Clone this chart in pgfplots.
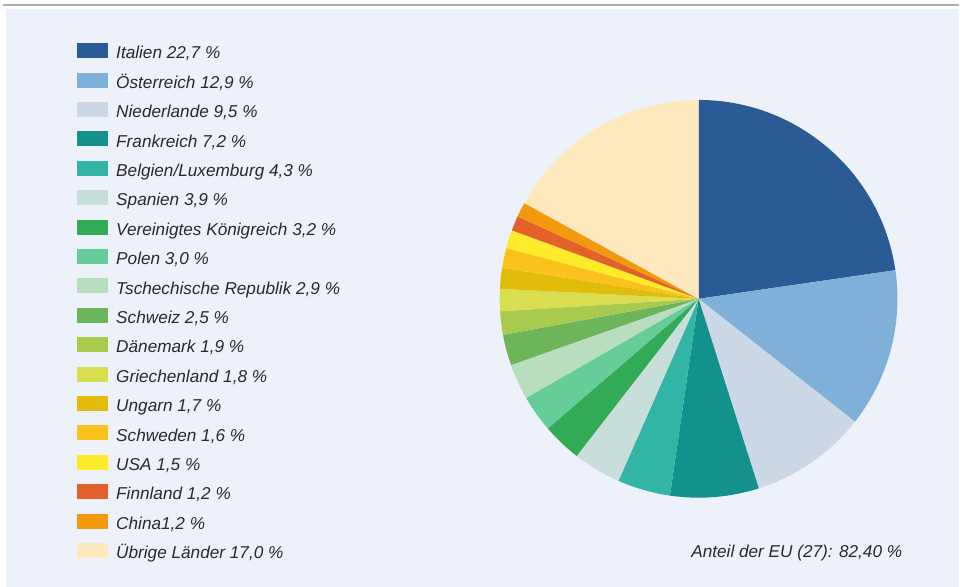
\documentclass[border=0pt]{standalone}
\usepackage{pgfplots}
\pgfplotsset{compat=1.18}
\usepackage{pgfplotstable}
\usepackage{fontspec}
\setmainfont{Liberation Sans}
\newcommand\lf{\fontsize{12.9}{15}\selectfont\itshape}
\definecolor{txt}{HTML}{2A2A2A}
\definecolor{panel}{HTML}{EDF1FA}
\definecolor{cIT}{HTML}{2B5B94}
\definecolor{cAT}{HTML}{7FB0DA}
\definecolor{cNL}{HTML}{CDD8E6}
\definecolor{cFR}{HTML}{14918A}
\definecolor{cBE}{HTML}{33B5A5}
\definecolor{cES}{HTML}{C8DEDA}
\definecolor{cUK}{HTML}{33AA55}
\definecolor{cPL}{HTML}{66CC99}
\definecolor{cCZ}{HTML}{B8DDBF}
\definecolor{cCH}{HTML}{6DB55A}
\definecolor{cDK}{HTML}{A8CB4E}
\definecolor{cGR}{HTML}{D9DD50}
\definecolor{cHU}{HTML}{E2BC0A}
\definecolor{cSE}{HTML}{FBC21E}
\definecolor{cUS}{HTML}{FFEB2A}
\definecolor{cFI}{HTML}{E3622C}
\definecolor{cCN}{HTML}{F3990E}
\definecolor{cOT}{HTML}{FEE8BE}

\pgfplotstableread{
val col
22.7 cIT
12.9 cAT
9.5 cNL
7.2 cFR
4.3 cBE
3.9 cES
3.2 cUK
3.0 cPL
2.9 cCZ
2.5 cCH
1.9 cDK
1.8 cGR
1.7 cHU
1.6 cSE
1.5 cUS
1.2 cFI
1.2 cCN
17.0 cOT
}\piedata
\pgfplotstablecreatecol[create col/expr accum={\pgfmathaccuma + \thisrow{val}}{0}]{cum}\piedata

\begin{document}
\begin{tikzpicture}
\begin{axis}[
  x=0.75pt, y=0.75pt, y dir=reverse,
  xmin=0, xmax=960, ymin=0, ymax=587,
  enlargelimits=false, hide axis, clip=false,
  legend cell align=left,
  legend image code/.code={\fill[#1, draw=none] (0pt,-5.375pt) rectangle (23.25pt,5.875pt);},
  legend style={at={(axis cs:77.3,43.3)}, anchor=north west, draw=none, fill=none,
    inner sep=0pt, outer sep=0pt, row sep=10.31pt, column sep=6pt,
    nodes={inner sep=0pt, outer sep=0pt, text height=11.75pt, text depth=0pt,
      font=\lf, text=txt}},
]
\fill[white] (axis cs:0,0) rectangle (axis cs:960,587);
\fill[panel] (axis cs:6,9) rectangle (axis cs:960,587);
\draw[color=black!32, line width=0.9pt] (axis cs:3,5) -- (axis cs:960,5);

\pgfplotsinvokeforeach{0,...,17}{%
  \pgfplotstablegetelem{#1}{val}\of\piedata \let\pv\pgfplotsretval
  \pgfplotstablegetelem{#1}{cum}\of\piedata \let\pc\pgfplotsretval
  \pgfplotstablegetelem{#1}{col}\of\piedata \let\pcol\pgfplotsretval
  \pgfmathsetmacro{\pa}{90-3.6*(\pc-\pv)}%
  \pgfmathsetmacro{\pb}{90-3.6*\pc}%
  \edef\tmp{\noexpand\fill[\pcol] (axis cs:699,299) -- ++(\pa:149.25pt) arc[start angle=\pa, end angle=\pb, radius=149.25pt] -- cycle;}%
  \tmp
}

\node[anchor=base east, font=\lf, text=txt, inner sep=0pt] at (axis cs:903,558) {Anteil der EU (27): 82,40 \%};

\addlegendimage{fill=cIT}\addlegendentry{Italien 22,7 \%}
\addlegendimage{fill=cAT}\addlegendentry{Österreich 12,9 \%}
\addlegendimage{fill=cNL}\addlegendentry{Niederlande 9,5 \%}
\addlegendimage{fill=cFR}\addlegendentry{Frankreich 7,2 \%}
\addlegendimage{fill=cBE}\addlegendentry{Belgien/Luxemburg 4,3 \%}
\addlegendimage{fill=cES}\addlegendentry{Spanien 3,9 \%}
\addlegendimage{fill=cUK}\addlegendentry{Vereinigtes Königreich 3,2 \%}
\addlegendimage{fill=cPL}\addlegendentry{Polen 3,0 \%}
\addlegendimage{fill=cCZ}\addlegendentry{Tschechische Republik 2,9 \%}
\addlegendimage{fill=cCH}\addlegendentry{Schweiz 2,5 \%}
\addlegendimage{fill=cDK}\addlegendentry{Dänemark 1,9 \%}
\addlegendimage{fill=cGR}\addlegendentry{Griechenland 1,8 \%}
\addlegendimage{fill=cHU}\addlegendentry{Ungarn 1,7 \%}
\addlegendimage{fill=cSE}\addlegendentry{Schweden 1,6 \%}
\addlegendimage{fill=cUS}\addlegendentry{USA 1,5 \%}
\addlegendimage{fill=cFI}\addlegendentry{Finnland 1,2 \%}
\addlegendimage{fill=cCN}\addlegendentry{China1,2 \%}
\addlegendimage{fill=cOT}\addlegendentry{Übrige Länder 17,0 \%}
\end{axis}
\end{tikzpicture}
\end{document}
